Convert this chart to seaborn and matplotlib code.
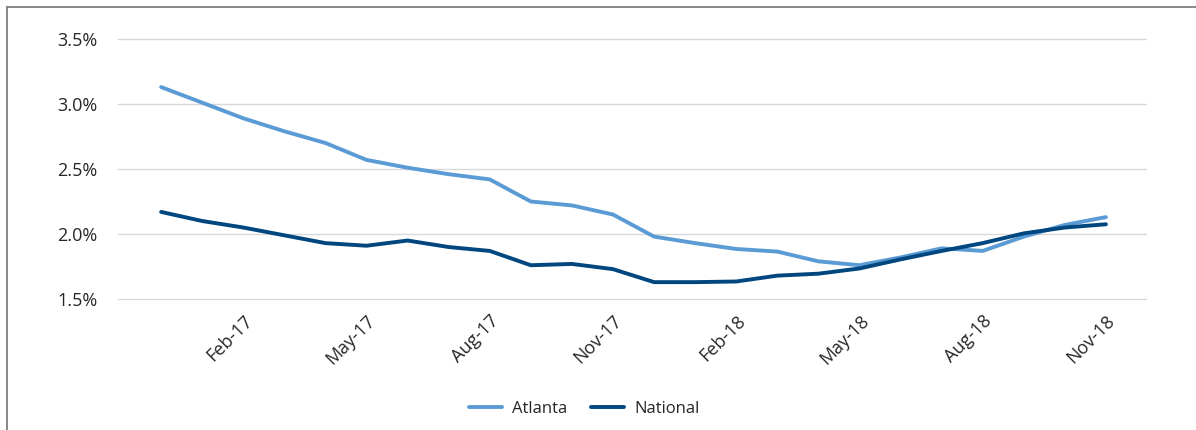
import matplotlib
matplotlib.use("Agg")
import matplotlib.pyplot as plt
from matplotlib.lines import Line2D
import seaborn as sns
import pandas as pd

months = ["Dec-16", "Jan-17", "Feb-17", "Mar-17", "Apr-17", "May-17", "Jun-17", "Jul-17",
          "Aug-17", "Sep-17", "Oct-17", "Nov-17", "Dec-17", "Jan-18", "Feb-18", "Mar-18",
          "Apr-18", "May-18", "Jun-18", "Jul-18", "Aug-18", "Sep-18", "Oct-18", "Nov-18"]
atlanta = [3.13, 3.01, 2.89, 2.79, 2.70, 2.57, 2.51, 2.46, 2.42, 2.25, 2.22, 2.15,
           1.98, 1.93, 1.885, 1.865, 1.79, 1.76, 1.82, 1.89, 1.87, 1.98, 2.07, 2.13]
national = [2.17, 2.10, 2.05, 1.99, 1.93, 1.91, 1.95, 1.90, 1.87, 1.76, 1.77, 1.73,
            1.63, 1.63, 1.635, 1.68, 1.695, 1.735, 1.805, 1.87, 1.93, 2.005, 2.05, 2.075]
tick_labels = ["Feb-17", "May-17", "Aug-17", "Nov-17", "Feb-18", "May-18", "Aug-18", "Nov-18"]
yticks = [1.5, 2.0, 2.5, 3.0, 3.5]

sns.set_theme(style="white")
plt.rcParams["font.family"] = ["Open Sans", "DejaVu Sans"]

idx = list(range(len(months)))
df = pd.DataFrame({
    "idx": idx * 2,
    "value": atlanta + national,
    "series": ["Atlanta"] * len(months) + ["National"] * len(months),
})

colors = {"Atlanta": "#5B9BD5", "National": "#00467F"}

fig = plt.figure(figsize=(11.96, 4.30), dpi=100)
ax = fig.add_axes([118 / 1196, 1 - 301 / 430, (1147 - 118) / 1196, 264 / 430])

sns.lineplot(data=df, x="idx", y="value", hue="series", palette=colors,
             linewidth=2.8, ax=ax, legend=False, solid_capstyle="round")

ax.set_xlim(-1.05, 24.0)
ax.set_ylim(1.485, 3.515)
ax.set_yticks(yticks)
ax.set_yticklabels([f"{v:.1f}%" for v in yticks], fontsize=13, color="#262626")
ax.yaxis.grid(True, color="#D9D9D9", linewidth=1)
ax.xaxis.grid(False)
tick_pos = [months.index(m) for m in tick_labels]
ax.set_xticks(tick_pos)
ax.set_xticklabels(tick_labels, rotation=45, ha="right", va="top", fontsize=13,
                   color="#262626", rotation_mode="anchor")
ax.tick_params(axis="x", length=0, pad=8)
ax.tick_params(axis="y", length=0, pad=15)
ax.set_xlabel("")
ax.set_ylabel("")
for s in ax.spines.values():
    s.set_visible(False)

handles = [Line2D([0], [0], color=colors["Atlanta"], linewidth=2.8),
           Line2D([0], [0], color=colors["National"], linewidth=2.8)]
fig.legend(handles, ["Atlanta", "National"], loc="center", bbox_to_anchor=(584 / 1196, 1 - 409 / 430),
           ncol=2, frameon=False, fontsize=12, handlelength=2.0, columnspacing=1.4,
           handletextpad=0.6)

# figure border (left and top)
fig.add_artist(Line2D([7 / 1196, 7 / 1196], [0, 1 - 7 / 430], transform=fig.transFigure,
                      color="#7F7F7F", linewidth=1.3))
fig.add_artist(Line2D([7 / 1196, 1], [1 - 7 / 430, 1 - 7 / 430], transform=fig.transFigure,
                      color="#7F7F7F", linewidth=1.3))

fig.savefig("out.png", dpi=100)
